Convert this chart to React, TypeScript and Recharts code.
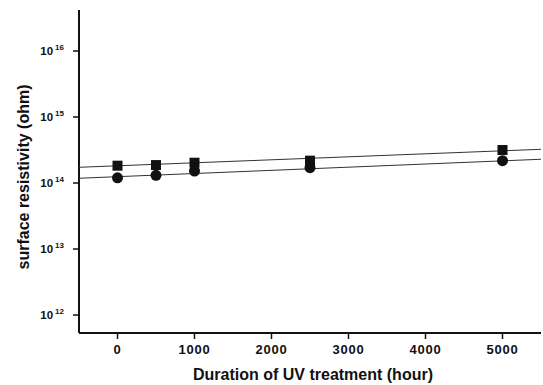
import React from 'react';
import { ScatterChart, Scatter, XAxis, YAxis } from 'recharts';

const hours = [0, 500, 1000, 2500, 5000];
const squareVals = [1.83e14, 1.87e14, 2.03e14, 2.18e14, 3.16e14];
const circleVals = [1.2e14, 1.31e14, 1.52e14, 1.71e14, 2.18e14];
const fitHours = [-500, 5500];
const squareFit = [1.73e14, 3.24e14];
const circleFit = [1.18e14, 2.29e14];
const xTicks = [0, 1000, 2000, 3000, 4000, 5000];
const yTicks = [1e12, 1e13, 1e14, 1e15, 1e16];
const xDomain = [-500, 5500];
const yDomain = [5.34e11, 4.18e16];

const toPts = (xs: number[], ys: number[]) => xs.map((x, i) => ({ x, y: ys[i] }));
const squareData = toPts(hours, squareVals);
const circleData = toPts(hours, circleVals);
const squareFitData = toPts(fitHours, squareFit);
const circleFitData = toPts(fitHours, circleFit);

const FONT = 'Arial, "Liberation Sans", Helvetica, sans-serif';

const SquareShape = (p: any) => (
  <rect x={p.cx - 5} y={p.cy - 5} width={10} height={10} fill="#111" />
);
const CircleShape = (p: any) => <circle cx={p.cx} cy={p.cy} r={5.5} fill="#111" />;
const NoShape = () => null;

const YTick = (p: any) => {
  const exp = Math.round(Math.log10(p.payload.value));
  return (
    <text x={p.x - 7} y={p.y + 4} textAnchor="end" fontFamily={FONT} fontWeight="bold" fontSize={11.5} fill="#111">
      10
      <tspan dx={2} dy={-5} fontSize={8}>{exp}</tspan>
    </text>
  );
};

const XTick = (p: any) => (
  <text x={p.x} y={p.y + 13} textAnchor="middle" fontFamily={FONT} fontWeight="bold" fontSize={13} letterSpacing={0.8} fill="#111">
    {p.payload.value}
  </text>
);

export default function App() {
  return (
    <div style={{ position: 'absolute', left: 0, top: 0, background: '#fff' }}>
      <ScatterChart width={543} height={385} margin={{ top: 10, right: 2, bottom: 0, left: 0 }}>
        <XAxis
          type="number"
          dataKey="x"
          domain={xDomain}
          ticks={xTicks}
          allowDataOverflow
          height={52}
          tickSize={6}
          tick={<XTick />}
          axisLine={{ stroke: '#111', strokeWidth: 2 }}
          tickLine={{ stroke: '#111', strokeWidth: 1.5 }}
          label={{
            content: () => (
              <text x={313} y={380} textAnchor="middle" fontFamily={FONT} fontWeight="bold" fontSize={16} fill="#111">
                Duration of UV treatment (hour)
              </text>
            ),
          }}
        />
        <XAxis
          xAxisId="top"
          orientation="top"
          type="number"
          dataKey="x"
          domain={xDomain}
          allowDataOverflow
          height={0}
          tick={false}
          tickLine={false}
          axisLine={{ stroke: '#111', strokeWidth: 2 }}
        />
        <YAxis
          type="number"
          dataKey="y"
          scale="log"
          domain={yDomain}
          ticks={yTicks}
          allowDataOverflow
          width={79}
          tickSize={6}
          tick={<YTick />}
          axisLine={{ stroke: '#111', strokeWidth: 2 }}
          tickLine={{ stroke: '#111', strokeWidth: 1.5 }}
          label={{
            content: () => (
              <text
                x={29}
                y={177}
                transform="rotate(-90 29 177)"
                textAnchor="middle"
                fontFamily={FONT}
                fontWeight="bold"
                fontSize={16}
                fill="#111"
              >
                surface resistivity (ohm)
              </text>
            ),
          }}
        />
        <YAxis
          yAxisId="right"
          orientation="right"
          type="number"
          dataKey="y"
          scale="log"
          domain={yDomain}
          allowDataOverflow
          width={0}
          tick={false}
          tickLine={false}
          axisLine={{ stroke: '#111', strokeWidth: 1.5 }}
        />
        <Scatter data={squareFitData} line={{ stroke: '#333', strokeWidth: 1 }} shape={<NoShape />} isAnimationActive={false} />
        <Scatter data={circleFitData} line={{ stroke: '#333', strokeWidth: 1 }} shape={<NoShape />} isAnimationActive={false} />
        <Scatter data={squareData} shape={<SquareShape />} isAnimationActive={false} />
        <Scatter data={circleData} shape={<CircleShape />} isAnimationActive={false} />
      </ScatterChart>
    </div>
  );
}
